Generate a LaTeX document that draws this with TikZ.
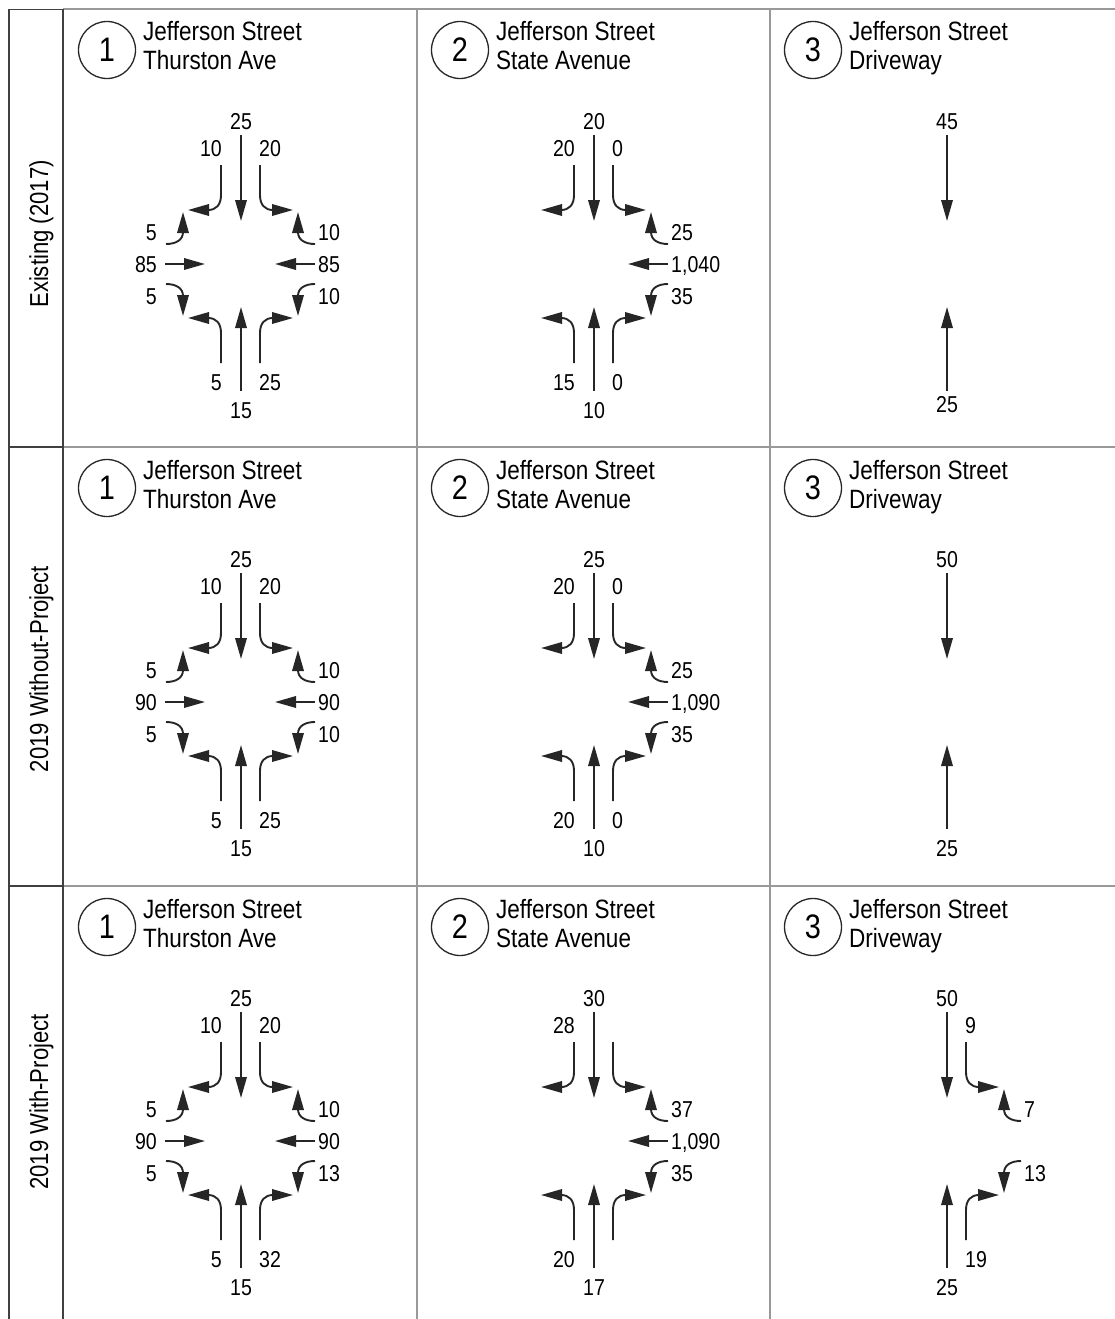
\documentclass[tikz,border=0pt]{standalone}
\usepackage{fontspec}
\setmainfont{Liberation Sans}
\newfontfamily\narrowfont[FakeStretch=0.85]{Liberation Sans}
\usetikzlibrary{arrows.meta}

\tikzset{
  mv/.style={line width=1.9pt, draw=black!85, -{Triangle[length=21pt,width=11.5pt]}},
  num/.style={font=\narrowfont\fontsize{23}{26}\selectfont, inner sep=0pt,
    text height=16.5pt, text depth=0pt, text=black},
  hdr/.style={font=\narrowfont\fontsize{26.5}{30}\selectfont, inner sep=0pt,
    anchor=base west, text=black},
  idx/.style={circle, draw=black!85, line width=1.3pt, minimum size=57pt,
    inner sep=0pt, font=\narrowfont\fontsize{34}{36}\selectfont},
  rowlab/.style={rotate=90, anchor=base, inner sep=0pt,
    font=\narrowfont\fontsize{26}{29}\selectfont, text=black},
  gridline/.style={draw=black!40, line width=2pt},
  framerule/.style={draw=black!75, line width=1.6pt},
}

% label helper: draws nothing when the text is empty
\newcommand\movlab[4]{\def\movlabtext{#4}\ifx\movlabtext\empty\else
  \node[num,anchor=#2] (#1) at (#3) {#4};\fi}

% cell heading: numbered circle and the two street names
\newcommand\cellhead[4]{%
  \node[idx] (#1-idx) at (-134,-214) {#2};
  \node[hdr] (#1-st1) at (-98,-223) {#3};
  \node[hdr] (#1-st2) at (-98,-194) {#4};}

% turning movements, coordinates relative to the intersection centre
\newcommand\mvSBT[2]{\draw[mv] (0,-129) -- (0,-43); \movlab{#1-sbt}{center}{0,-143}{#2}}
\newcommand\mvSBR[2]{\draw[mv] (-20,-99) -- (-20,-69) .. controls (-20,-59) and (-25,-54) .. (-33,-54) -- (-53,-54);
  \movlab{#1-sbr}{east}{-19,-116}{#2}}
\newcommand\mvSBL[2]{\draw[mv] (19,-99) -- (19,-69) .. controls (19,-59) and (24,-54) .. (32,-54) -- (52,-54);
  \movlab{#1-sbl}{west}{18,-116}{#2}}
\newcommand\mvNBT[2]{\draw[mv] (0,127) -- (0,43); \movlab{#1-nbt}{center}{0,146}{#2}}
\newcommand\mvNBL[2]{\draw[mv] (-20,99) -- (-20,69) .. controls (-20,59) and (-25,54) .. (-33,54) -- (-53,54);
  \movlab{#1-nbl}{east}{-19,118}{#2}}
\newcommand\mvNBR[2]{\draw[mv] (19,99) -- (19,69) .. controls (19,59) and (24,54) .. (32,54) -- (52,54);
  \movlab{#1-nbr}{west}{18,118}{#2}}
\newcommand\mvEBT[2]{\draw[mv] (-76,0) -- (-36,0); \movlab{#1-ebt}{east}{-84,0}{#2}}
\newcommand\mvEBL[2]{\draw[mv] (-75,-20) .. controls (-65,-20) and (-58,-24) .. (-58,-32) -- (-58,-52);
  \movlab{#1-ebl}{east}{-84,-32}{#2}}
\newcommand\mvEBR[2]{\draw[mv] (-75,20) .. controls (-65,20) and (-58,24) .. (-58,32) -- (-58,52);
  \movlab{#1-ebr}{east}{-84,32}{#2}}
\newcommand\mvWBT[2]{\draw[mv] (74,0) -- (34,0); \movlab{#1-wbt}{west}{77,0}{#2}}
\newcommand\mvWBR[2]{\draw[mv] (74,-20) .. controls (64,-20) and (57,-24) .. (57,-32) -- (57,-52);
  \movlab{#1-wbr}{west}{77,-32}{#2}}
\newcommand\mvWBL[2]{\draw[mv] (74,20) .. controls (64,20) and (57,24) .. (57,32) -- (57,52);
  \movlab{#1-wbl}{west}{77,32}{#2}}

\begin{document}
\begin{tikzpicture}[x=1pt,y=-1pt]
\useasboundingbox (0,0) rectangle (1115,1319);

% table rules
\draw[gridline] (63,9.5) -- (1115,9.5);
\draw[gridline] (63,447) -- (1115,447);
\draw[gridline] (63,886) -- (1115,886);
\draw[gridline] (417,9.5) -- (417,1319);
\draw[gridline] (770,9.5) -- (770,1319);
\draw[framerule] (9,1319) -- (9,9.5) -- (63,9.5) -- (63,1319);
\draw[framerule] (9,447) -- (63,447);
\draw[framerule] (9,886) -- (63,886);

% scenario labels
\node[rowlab] (row1) at (48,234) {Existing (2017)};
\node[rowlab] (row2) at (48,669) {2019 Without-Project};
\node[rowlab] (row3) at (48,1102) {2019 With-Project};

% ---- Existing (2017)
\begin{scope}[shift={(241,264)}]
  \cellhead{a1}{1}{Jefferson Street}{Thurston Ave}
  \mvSBT{a1}{25}\mvSBR{a1}{10}\mvSBL{a1}{20}
  \mvEBL{a1}{5}\mvEBT{a1}{85}\mvEBR{a1}{5}
  \mvWBR{a1}{10}\mvWBT{a1}{85}\mvWBL{a1}{10}
  \mvNBL{a1}{5}\mvNBT{a1}{15}\mvNBR{a1}{25}
\end{scope}
\begin{scope}[shift={(594,264)}]
  \cellhead{a2}{2}{Jefferson Street}{State Avenue}
  \mvSBT{a2}{20}\mvSBR{a2}{20}\mvSBL{a2}{0}
  \mvWBR{a2}{25}\mvWBT{a2}{1,040}\mvWBL{a2}{35}
  \mvNBL{a2}{15}\mvNBT{a2}{10}\mvNBR{a2}{0}
\end{scope}
\begin{scope}[shift={(947,264)}]
  \cellhead{a3}{3}{Jefferson Street}{Driveway}
  \mvSBT{a3}{45}
  \draw[mv] (0,127) -- (0,43); \node[num] (a3-nbt) at (0,140) {25};
\end{scope}

% ---- 2019 Without-Project
\begin{scope}[shift={(241,702)}]
  \cellhead{b1}{1}{Jefferson Street}{Thurston Ave}
  \mvSBT{b1}{25}\mvSBR{b1}{10}\mvSBL{b1}{20}
  \mvEBL{b1}{5}\mvEBT{b1}{90}\mvEBR{b1}{5}
  \mvWBR{b1}{10}\mvWBT{b1}{90}\mvWBL{b1}{10}
  \mvNBL{b1}{5}\mvNBT{b1}{15}\mvNBR{b1}{25}
\end{scope}
\begin{scope}[shift={(594,702)}]
  \cellhead{b2}{2}{Jefferson Street}{State Avenue}
  \mvSBT{b2}{25}\mvSBR{b2}{20}\mvSBL{b2}{0}
  \mvWBR{b2}{25}\mvWBT{b2}{1,090}\mvWBL{b2}{35}
  \mvNBL{b2}{20}\mvNBT{b2}{10}\mvNBR{b2}{0}
\end{scope}
\begin{scope}[shift={(947,702)}]
  \cellhead{b3}{3}{Jefferson Street}{Driveway}
  \mvSBT{b3}{50}
  \mvNBT{b3}{25}
\end{scope}

% ---- 2019 With-Project
\begin{scope}[shift={(241,1141)}]
  \cellhead{c1}{1}{Jefferson Street}{Thurston Ave}
  \mvSBT{c1}{25}\mvSBR{c1}{10}\mvSBL{c1}{20}
  \mvEBL{c1}{5}\mvEBT{c1}{90}\mvEBR{c1}{5}
  \mvWBR{c1}{10}\mvWBT{c1}{90}\mvWBL{c1}{13}
  \mvNBL{c1}{5}\mvNBT{c1}{15}\mvNBR{c1}{32}
\end{scope}
\begin{scope}[shift={(594,1141)}]
  \cellhead{c2}{2}{Jefferson Street}{State Avenue}
  \mvSBT{c2}{30}\mvSBR{c2}{28}\mvSBL{c2}{}
  \mvWBR{c2}{37}\mvWBT{c2}{1,090}\mvWBL{c2}{35}
  \mvNBL{c2}{20}\mvNBT{c2}{17}\mvNBR{c2}{}
\end{scope}
\begin{scope}[shift={(947,1141)}]
  \cellhead{c3}{3}{Jefferson Street}{Driveway}
  \mvSBT{c3}{50}\mvSBL{c3}{9}
  \mvWBR{c3}{7}\mvWBL{c3}{13}
  \mvNBT{c3}{25}\mvNBR{c3}{19}
\end{scope}
\end{tikzpicture}
\end{document}
